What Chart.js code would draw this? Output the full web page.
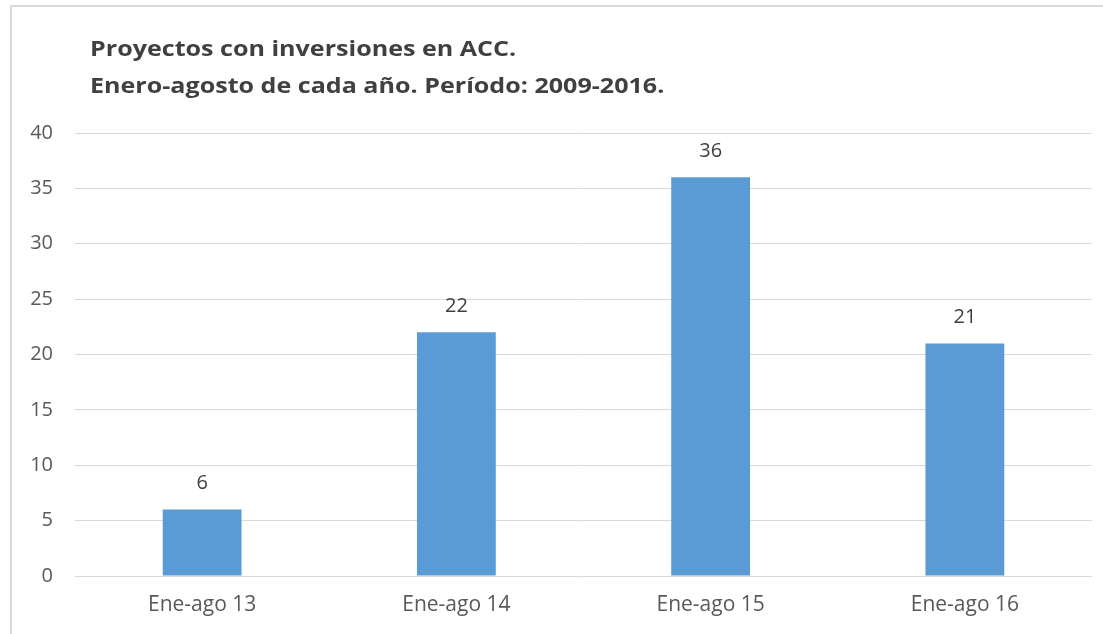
<!DOCTYPE html>
<html>
<head>
<meta charset="utf-8">
<script src="https://cdn.jsdelivr.net/npm/chart.js@4"></script>
<style>
    html, body { margin: 0; padding: 0; background: #fff; overflow: hidden; }
    #wrap { position: relative; width: 1103px; height: 634px; }
    #frame {
        position: absolute; left: 10px; top: 5px; width: 1200px; height: 700px;
        border: 2px solid #d9d9d9; box-sizing: border-box;
    }
    #title {
        position: absolute; left: 90px; top: 29px;
        font-family: 'Open Sans', sans-serif; font-weight: 700; font-size: 22px;
        line-height: 37px; color: #404040; white-space: nowrap;
        transform: scaleX(1.14); transform-origin: left top;
    }
    #chart { position: absolute; left: 0; top: 0; }
</style>
</head>
<body>
<div id="wrap">
    <div id="frame"></div>
    <canvas id="chart" width="1103" height="634"></canvas>
    <div id="title">Proyectos con inversiones en ACC.<br>Enero-agosto de cada año. Período: 2009-2016.</div>
</div>
<script>
const categories = ['Ene-ago 13', 'Ene-ago 14', 'Ene-ago 15', 'Ene-ago 16'];
const projects = [6, 22, 36, 21];
const yTicks = [0, 5, 10, 15, 20, 25, 30, 35, 40];

// draws the value above each bar
const valueLabels = {
    id: 'valueLabels',
    afterDatasetsDraw(chart) {
        const ctx = chart.ctx;
        const meta = chart.getDatasetMeta(0);
        ctx.save();
        ctx.font = '20px "Open Sans", sans-serif';
        ctx.fillStyle = '#404040';
        ctx.textAlign = 'center';
        ctx.textBaseline = 'middle';
        meta.data.forEach((bar, i) => {
            ctx.fillText(projects[i], bar.x, bar.y - 26);
        });
        ctx.restore();
    }
};

function initChart() {
    const ctx = document.getElementById('chart').getContext('2d');

    new Chart(ctx, {
        type: 'bar',
        data: {
            labels: categories,
            datasets: [{
                data: projects,
                backgroundColor: '#5b9bd5',
                categoryPercentage: 1,
                barPercentage: 0.31
            }]
        },
        options: {
            responsive: false,
            animation: false,
            layout: { padding: { top: 133, right: 11, bottom: 0, left: 0 } },
            plugins: {
                legend: { display: false },
                tooltip: { enabled: false }
            },
            scales: {
                y: {
                    min: 0,
                    max: 40,
                    afterBuildTicks: scale => { scale.ticks = yTicks.map(v => ({ value: v })); },
                    afterFit: scale => { scale.width = 75; },
                    border: { display: false },
                    grid: { color: '#d9d9d9', lineWidth: 1, drawTicks: false },
                    ticks: {
                        padding: 22,
                        color: '#595959',
                        font: { family: 'Open Sans', size: 20 }
                    }
                },
                x: {
                    afterFit: scale => { scale.height = 58; },
                    border: { display: false },
                    grid: { display: false, drawTicks: false },
                    ticks: {
                        padding: 16,
                        color: '#595959',
                        font: { family: 'Open Sans', size: 21 }
                    }
                }
            }
        },
        plugins: [valueLabels]
    });
}

document.addEventListener('DOMContentLoaded', initChart);
</script>
</body>
</html>
